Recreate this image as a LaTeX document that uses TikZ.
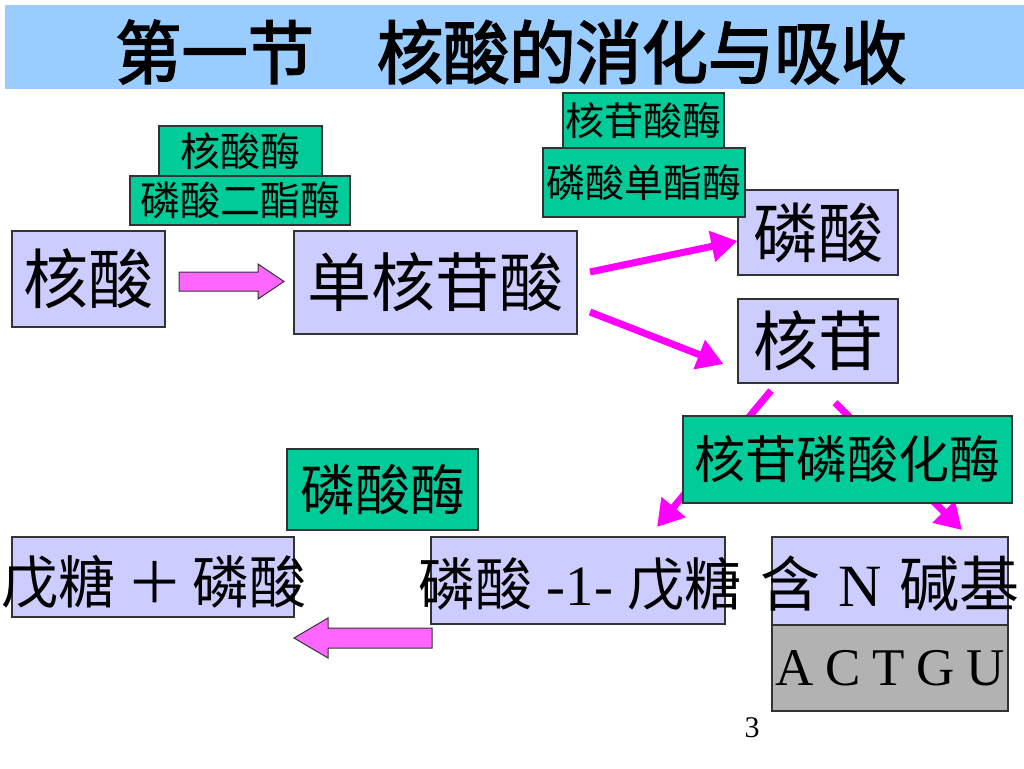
\documentclass[tikz,border=0pt]{standalone}
\usepackage{fontspec}
\setmainfont{Liberation Serif}
\newfontfamily\cjk{Noto Sans CJK SC}
\newfontfamily\cjkb[FakeBold=2.5]{Noto Sans CJK SC}
\usetikzlibrary{arrows.meta}
\definecolor{lav}{HTML}{CCCCFF}
\definecolor{grn}{HTML}{00CC99}
\definecolor{titleblue}{HTML}{99CCFF}
\definecolor{mag}{HTML}{FF00FF}
\definecolor{pinkfill}{HTML}{FF66FF}
\definecolor{gry}{HTML}{B2B2B2}
\definecolor{edge}{HTML}{333333}
\newcommand{\fsz}[1]{\fontsize{#1}{#1}\selectfont}
\begin{document}
\begin{tikzpicture}[x=1pt,y=-1pt,
  box/.style={draw=edge, line width=1.2pt, inner sep=0pt},
  lavbox/.style={box, fill=lav},
  grnbox/.style={box, fill=grn},
  lbl/.style={inner sep=0pt},
  conn/.style={draw=mag, line width=7pt, -{Triangle[length=26pt,width=30pt]}},
  blockarrow/.style={draw=edge, line width=1pt, fill=pinkfill}
]
\useasboundingbox (0,0) rectangle (1024,768);

% title band
\node[fill=titleblue, inner sep=0pt, minimum width=1019, minimum height=84, anchor=north west] (band) at (5,5) {};
\node[lbl, xscale=0.96] (title) at (511,52) {\cjkb\fsz{69}第一节\hspace{0.95em}核酸的消化与吸收};

% top-left
\node[lavbox, minimum width=153, minimum height=96] (na) at (88.5,279) {\cjk\fsz{65}核酸};
\node[lavbox, minimum width=283, minimum height=103] (nmp) at (435.5,282.5) {\cjk\fsz{64}单核苷酸};

\node[lavbox, minimum width=160, minimum height=85] (pa) at (818,232.5) {\cjk\fsz{65}磷酸};
\node[lavbox, minimum width=160, minimum height=84] (ns) at (818,341) {\cjk\fsz{65}核苷};

% connectors (line arrows) drawn before overlapping boxes
\coordinate (a1s) at (590,272);
\coordinate (a2s) at (590,312);
\draw[conn] (a1s) -- (pa.west |- 0,241) coordinate (a1e);
\draw[conn] (a2s) -- ([xshift=-14pt]ns.west |- 0,364) coordinate (a2e);

\coordinate (b1e) at (657,527);
\coordinate (b2e) at (962,530);
\draw[conn] ([xshift=-47pt,yshift=-7pt]ns.south) -- (b1e);
\draw[conn] ([xshift=17pt,yshift=-19pt]ns.south) -- (b2e);

% enzymes
\node[grnbox, minimum width=163, minimum height=50] (nase) at (240.5,151) {\cjk\fsz{40}核酸酶};
\node[grnbox, minimum width=220, minimum height=49] (pde) at (240,200.5) {\cjk\fsz{40}磷酸二酯酶};
\node[grnbox, minimum width=161, minimum height=55] (ntase) at (643.5,120.5) {\cjk\fsz{39}核苷酸酶};
\node[grnbox, minimum width=202, minimum height=69] (pme) at (644,182.5) {\cjk\fsz{39}磷酸单酯酶};
\node[grnbox, minimum width=329, minimum height=87] (npase) at (847.5,459.5) {\cjk\fsz{51}核苷磷酸化酶};
\node[grnbox, minimum width=191, minimum height=81] (pase) at (382.5,489.5) {\cjk\fsz{55}磷酸酶};

% block arrow: nucleic acid -> mononucleotide
\draw[blockarrow] (179,272) -- (258,272) -- (258,264) -- (284,281.5) -- (258,299) -- (258,291) -- (179,291) -- cycle;

% bottom row
\node[lavbox, minimum width=282, minimum height=80] (pp) at (153,577) {};
\node[lbl] (ppt) at (154,582) {\cjk\fsz{57}戊糖\hspace{0.2em}＋\hspace{0.15em}磷酸};
\node[lavbox, minimum width=294, minimum height=87] (p1p) at (578,580.5) {};
\node[lbl] (p1pt) at (580,584) {\cjk\fsz{57}磷酸\hspace{0.25em}{\rmfamily -1-}\hspace{0.25em}戊糖};
\node[lavbox, minimum width=236, minimum height=88] (base) at (890,581) {};
\node[lbl] (baset) at (890,584) {\cjk\fsz{60}含\hspace{0.3em}{\rmfamily N}\hspace{0.3em}碱基};
\node[box, fill=gry, minimum width=236, minimum height=86] (actgu) at (890,668) {\rmfamily\fsz{53}A\hspace{0.22em}C\hspace{0.22em}T\hspace{0.22em}G\hspace{0.22em}U};

% block arrow: pentose-1-phosphate -> pentose + phosphate
\draw[blockarrow] (432,628) -- (328,628) -- (328,618) -- (294,638) -- (328,658) -- (328,648) -- (432,648) -- cycle;

% page number
\node[lbl] (pg) at (752,728) {\rmfamily\fsz{30}3};
\end{tikzpicture}
\end{document}
